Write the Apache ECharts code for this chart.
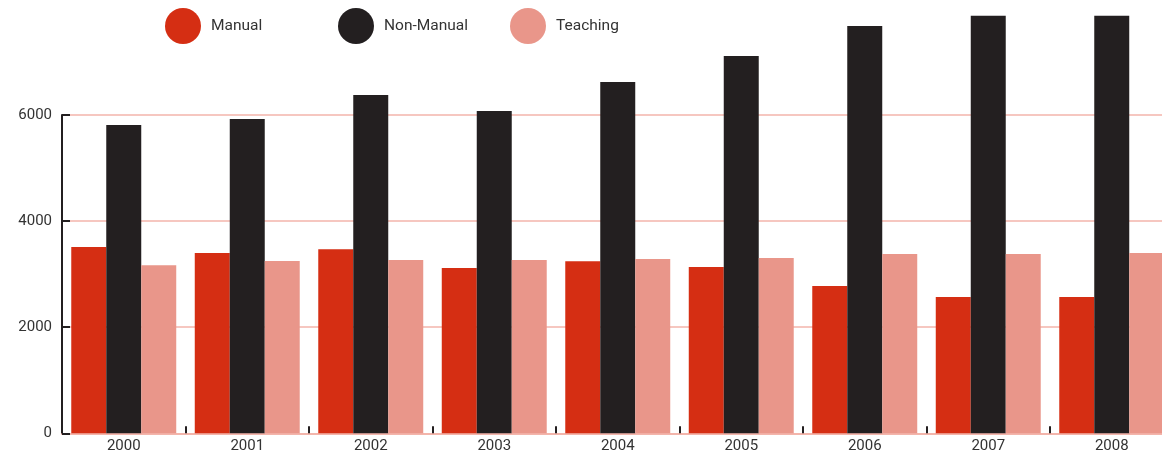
<!DOCTYPE html>
<html>
<head>
<meta charset="utf-8">
<script src="https://cdn.jsdelivr.net/npm/echarts@6/dist/echarts.min.js"></script>
<style>
  html, body { margin: 0; padding: 0; background: #fff; }
  #chart { width: 1162px; height: 457px; }
</style>
</head>
<body>
<div id="chart"></div>
<script>
// ===== Data =====
const years = ['2000', '2001', '2002', '2003', '2004', '2005', '2006', '2007', '2008'];
const seriesNames = ['Manual', 'Non-Manual', 'Teaching'];
const manual = [3510, 3400, 3470, 3115, 3245, 3135, 2775, 2570, 2570];
const nonManual = [5810, 5925, 6375, 6075, 6620, 7110, 7680, 7870, 7870];
const teaching = [3170, 3250, 3265, 3265, 3285, 3305, 3380, 3380, 3400];
const yTicks = [0, 2000, 4000, 6000];

// ===== Colours =====
const RED = '#D52E13';
const BLACK = '#231F20';
const PINK = '#E9968A';
const GRID_PINK = '#F3B5AB';
const TEXT = '#333333';
const FONT = 'Roboto, "DejaVu Sans", sans-serif';

// ===== Chart =====
const chart = echarts.init(document.getElementById('chart'), null, { renderer: 'canvas' });

function barSeries(name, data, color) {
  return {
    name, type: 'bar', data,
    itemStyle: { color },
    barGap: '0%',
    barCategoryGap: '15%',
    clip: false,
    animation: false
  };
}

// one legend per series so the items sit at fixed spacing
function legendAt(name, left) {
  return {
    left, top: 8, padding: 0,
    icon: 'circle',
    itemWidth: 36, itemHeight: 36,
    textStyle: { fontFamily: FONT, fontSize: 15.5, color: TEXT, padding: [0, 0, 0, 5] },
    data: [name]
  };
}

chart.setOption({
  animation: false,
  legend: [
    legendAt(seriesNames[0], 165),
    legendAt(seriesNames[1], 338),
    legendAt(seriesNames[2], 510)
  ],
  grid: {
    left: 62, top: 115, width: 1111.5, height: 318.3,
    containLabel: false, outerBoundsMode: 'none'
  },
  xAxis: {
    type: 'category',
    data: years,
    axisLine: { lineStyle: { color: GRID_PINK, width: 2 } },
    axisTick: { show: true, inside: true, length: 7, lineStyle: { color: BLACK, width: 2 } },
    axisLabel: { fontFamily: FONT, fontSize: 15, color: TEXT, margin: 5 }
  },
  yAxis: {
    type: 'value',
    min: yTicks[0], max: yTicks[yTicks.length - 1], interval: 2000,
    axisLine: { show: true, lineStyle: { color: BLACK, width: 2 } },
    axisTick: { show: true, inside: true, length: 8, lineStyle: { color: BLACK, width: 2 } },
    axisLabel: { fontFamily: FONT, fontSize: 15, color: TEXT, margin: 10, formatter: v => String(v) },
    splitLine: { lineStyle: { color: GRID_PINK, width: 1.5 } }
  },
  series: [
    barSeries(seriesNames[0], manual, RED),
    barSeries(seriesNames[1], nonManual, BLACK),
    barSeries(seriesNames[2], teaching, PINK)
  ]
});
</script>
</body>
</html>
